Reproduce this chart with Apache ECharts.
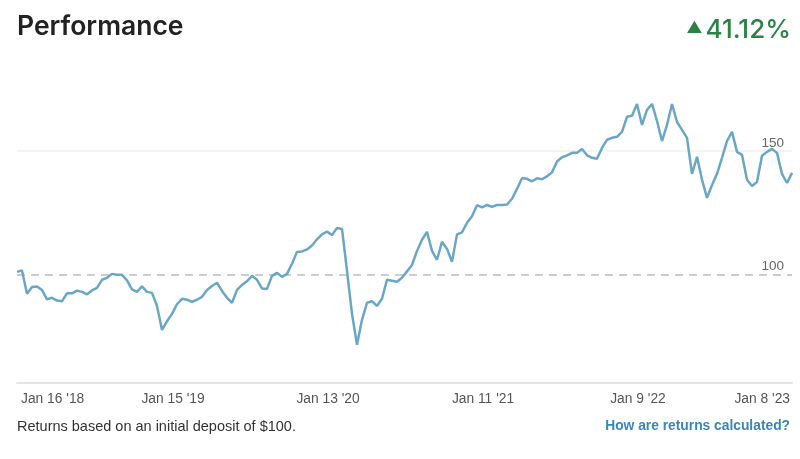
<!DOCTYPE html>
<html>
<head>
<meta charset="utf-8">
<script src="https://cdn.jsdelivr.net/npm/echarts@6/dist/echarts.min.js"></script>
<style>
  html, body { margin: 0; padding: 0; background: #fff; }
  #chart { width: 800px; height: 459px; }
</style>
</head>
<body>
<div id="chart"></div>
<script>
// tick labels along the bottom axis (evenly spaced)
const tickLabels = ["Jan 16 '18", "Jan 15 '19", "Jan 13 '20", "Jan 11 '21", "Jan 9 '22", "Jan 8 '23"];

// value of $100 deposit at even steps
const values = [
  101.0, 101.6, 92.1, 94.9, 95.1, 93.7, 89.9, 90.5, 89.4, 89.1,
  92.3, 92.3, 93.4, 92.9, 91.9, 93.5, 94.5, 97.8, 98.6, 100.2,
  99.8, 99.8, 97.6, 93.9, 92.9, 95.1, 92.9, 92.5, 87.2, 77.5,
  81.0, 84.0, 87.9, 90.1, 89.7, 88.9, 89.7, 90.9, 93.7, 95.3,
  96.6, 93.3, 90.5, 88.5, 93.7, 95.7, 97.2, 99.4, 97.8, 94.3,
  94.1, 99.4, 100.6, 99.0, 100.2, 104.3, 109.1, 109.3, 110.1, 111.7,
  114.2, 116.2, 117.3, 115.9, 118.8, 118.4, 101.4, 84.0, 71.5, 81.6,
  88.5, 89.1, 87.2, 90.1, 97.8, 97.4, 97.0, 98.6, 101.2, 103.8,
  109.5, 114.0, 117.2, 109.5, 105.9, 113.2, 110.3, 105.1, 116.2, 117.0,
  120.9, 123.5, 128.0, 127.1, 128.1, 127.3, 128.1, 128.1, 128.3, 130.6,
  134.6, 138.9, 138.7, 137.7, 138.9, 138.5, 139.7, 141.3, 145.7, 147.4,
  148.2, 149.2, 149.2, 150.8, 148.2, 147.2, 146.8, 151.2, 154.5, 155.3,
  155.7, 157.7, 163.8, 164.2, 169.0, 160.5, 166.6, 169.0, 162.1, 154.0,
  160.5, 169.0, 161.7, 158.5, 155.3, 140.7, 147.6, 138.3, 131.0, 136.2,
  140.7, 147.2, 154.0, 157.7, 149.6, 148.4, 138.3, 135.8, 137.4, 148.0,
  149.6, 150.8, 149.2, 140.7, 137.0, 141.1
];

const returnPct = "41.12%";

const chart = echarts.init(document.getElementById('chart'));
const last = values.length - 1;
const step = last / (tickLabels.length - 1);

chart.setOption({
  backgroundColor: '#fff',
  animation: false,
  title: [
    {
      text: 'Performance',
      left: 17, top: 14, padding: 0,
      textStyle: { fontFamily: 'Inter', fontSize: 26.5, fontWeight: 600, color: '#222' }
    },
    {
      text: '{tri|▲}' + returnPct,
      right: 9, top: 17, padding: 0,
      textStyle: {
        fontFamily: 'Inter', fontSize: 26, fontWeight: 500, color: '#2b8446',
        rich: { tri: { fontSize: 16, color: '#2b8446', padding: [0, 3, 4, 0] } }
      }
    },
    {
      text: 'Returns based on an initial deposit of $100.',
      left: 17, top: 419, padding: 0,
      textStyle: { fontFamily: 'Liberation Sans', fontSize: 14.5, fontWeight: 'normal', color: '#333' }
    },
    {
      text: 'How are returns calculated?',
      right: 10, top: 419, padding: 0,
      textStyle: { fontFamily: 'Liberation Sans', fontSize: 13.8, fontWeight: 'bold', color: '#3a86b8' }
    }
  ],
  grid: { left: 17, right: 8, top: 62, bottom: 76, containLabel: false },
  xAxis: {
    type: 'value',
    min: 0,
    max: last,
    interval: step,
    axisLine: { show: true, lineStyle: { color: '#e4e4e4', width: 2 } },
    axisTick: { show: false },
    splitLine: { show: false },
    axisLabel: {
      margin: 9,
      color: '#555',
      fontFamily: 'Liberation Sans',
      fontSize: 13.8,
      alignMinLabel: 'left',
      alignMaxLabel: 'right',
      padding: [0, 2, 0, 4],
      formatter: v => tickLabels[Math.round(v / step)] || ''
    }
  },
  yAxis: {
    type: 'value',
    min: 56,
    max: 186,
    show: false,
    splitLine: { show: false }
  },
  series: [{
    type: 'line',
    data: values.map((v, i) => [i, v]),
    showSymbol: false,
    lineStyle: { color: '#6aa7c7', width: 2.5 },
    z: 3,
    markLine: {
      silent: true,
      symbol: 'none',
      z: 1,
      label: {
        position: 'insideEndTop',
        color: '#666',
        fontFamily: 'Liberation Sans',
        fontSize: 13.5,
        distance: [8, 1],
        formatter: p => String(p.value)
      },
      data: [
        { yAxis: 100, lineStyle: { color: '#bdbdbd', type: [8, 6], width: 1.5 } },
        { yAxis: 150, lineStyle: { color: '#f0f0f0', type: 'solid', width: 1.5 } }
      ]
    }
  }]
});
</script>
</body>
</html>
